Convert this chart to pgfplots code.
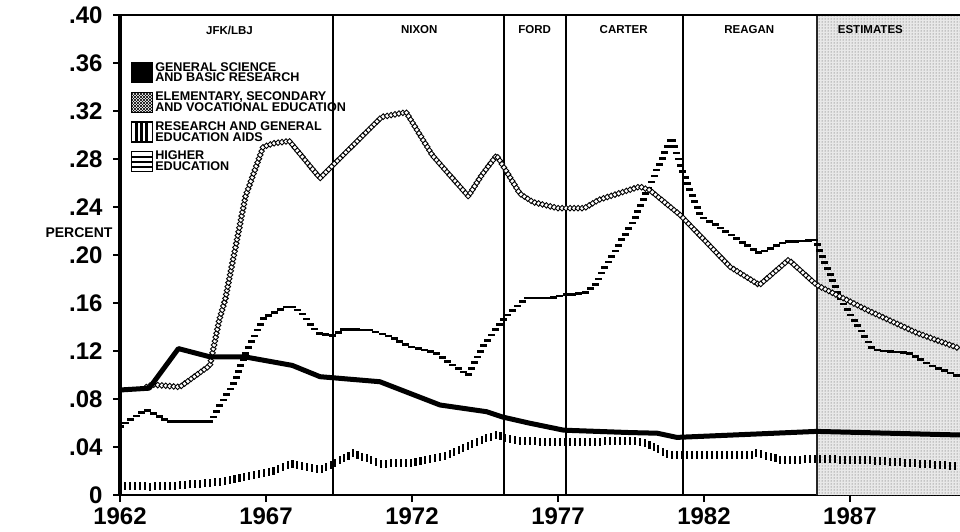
\documentclass[border=0pt]{standalone}
\usepackage{fontspec}
\setmainfont{Liberation Sans}
\usepackage{pgfplots}
\pgfplotsset{compat=1.18}
\usetikzlibrary{decorations.markings,patterns,shapes.geometric}

\tikzset{
  vbars/.style={decoration={markings,
     mark=between positions 0 and 1 step 5pt with {\node[fill=black,inner sep=0pt,minimum width=2.2pt,minimum height=8pt]{};}},
     postaction={decorate}},
  hbars/.style={decoration={markings,
     mark=between positions 0 and 1 step 6.5pt with {\node[fill=black,inner sep=0pt,minimum width=7pt,minimum height=2.6pt]{};}},
     postaction={decorate}},
  dchain/.style={decoration={markings,
     mark=between positions 0 and 1 step 4pt with {\node[diamond,draw=black,line width=0.9pt,fill=white,inner sep=0pt,minimum size=6pt]{};}},
     postaction={decorate}},
}

\begin{document}
\begin{tikzpicture}
\path[use as bounding box] (0,0) rectangle (960pt,532pt);
\begin{axis}[
  at={(120pt,37pt)}, anchor=south west,
  scale only axis, width=840pt, height=480pt,
  xmin=1962, xmax=1990.77, ymin=0, ymax=0.40,
  axis x line*=bottom, axis y line*=left,
  x axis line style={line width=2.5pt,-},
  y axis line style={line width=3.5pt,-},
  xtick={1962,1967,1972,1977,1982,1987},
  xticklabels={1962,1967,1972,1977,1982,1987},
  ytick={0,0.04,0.08,0.12,0.16,0.2,0.24,0.28,0.32,0.36,0.4},
  yticklabels={0,.04,.08,.12,.16,.20,.24,.28,.32,.36,.40},
  tick align=outside, major tick length=7pt,
  tick style={line width=2pt,black},
  /pgf/number format/assume math mode=true,
  ticklabel style={font=\fontsize{24}{24}\selectfont\bfseries},
  yticklabel style={xshift=-7pt},
  xticklabel style={yshift=-2pt},
  clip mode=individual,
  legend style={at={(rel axis cs:0.012,0.906)}, anchor=north west, draw=none, fill=none,
     inner sep=0pt, font=\fontsize{12.6}{10.8}\selectfont\bfseries,
     cells={anchor=west, align=left}, row sep=4.5pt},
]
% estimates region
\fill[black!9] (axis cs:1985.87,0) rectangle (axis cs:1990.77,0.40);
\fill[pattern=dots, pattern color=black!70] (axis cs:1985.87,0) rectangle (axis cs:1990.77,0.40);
\draw[line width=2.2pt, black!85] (axis cs:1985.87,0) -- (axis cs:1985.87,0.40);
% administration boundaries
\draw[line width=1.6pt] (axis cs:1969.29,0) -- (axis cs:1969.29,0.40);
\draw[line width=1.6pt] (axis cs:1975.15,0) -- (axis cs:1975.15,0.40);
\draw[line width=1.6pt] (axis cs:1977.27,0) -- (axis cs:1977.27,0.40);
\draw[line width=1.6pt] (axis cs:1981.28,0) -- (axis cs:1981.28,0.40);
\draw[line width=2pt] (rel axis cs:0,1) -- (rel axis cs:1,1);

\node[font=\fontsize{11.5}{12}\selectfont\bfseries] at (axis cs:1965.75,0.3875) {JFK/LBJ};
\node[font=\fontsize{11.5}{12}\selectfont\bfseries] at (axis cs:1972.25,0.3875) {NIXON};
\node[font=\fontsize{11.5}{12}\selectfont\bfseries] at (axis cs:1976.2,0.3875) {FORD};
\node[font=\fontsize{11.5}{12}\selectfont\bfseries] at (axis cs:1979.25,0.3875) {CARTER};
\node[font=\fontsize{11.5}{12}\selectfont\bfseries] at (axis cs:1983.55,0.3875) {REAGAN};
\node[font=\fontsize{11.5}{12}\selectfont\bfseries] at (axis cs:1987.7,0.3875) {ESTIMATES};

% Research and general education aids
\addplot[draw=none, vbars, forget plot] coordinates {
(1962,0.008) (1963.1,0.007) (1964,0.008) (1965.4,0.011) (1966.5,0.016) (1967.1,0.019)
(1967.9,0.026) (1968.85,0.021) (1969.3,0.026) (1970.0,0.035) (1970.9,0.026) (1972.0,0.027)
(1973.2,0.033) (1974.1,0.043) (1974.85,0.050) (1975.6,0.045) (1977.2,0.044) (1979.6,0.045)
(1980.15,0.042) (1980.8,0.033) (1983.6,0.033) (1983.8,0.035) (1984.7,0.029) (1985.86,0.030)
(1987.6,0.029) (1990.77,0.024)};

% Higher education
\addplot[draw=none, hbars, forget plot] coordinates {
(1962,0.057) (1962.9,0.071) (1963.7,0.061) (1965.1,0.061) (1965.4,0.0736) (1965.9,0.093)
(1966.3,0.118) (1966.9,0.147) (1967.8,0.158) (1968.2,0.153) (1968.6,0.140) (1968.85,0.134)
(1969.3,0.133) (1969.65,0.138) (1970.56,0.1375) (1971.25,0.132) (1971.9,0.124) (1972.85,0.118)
(1973.4,0.108) (1973.93,0.100) (1974.45,0.124) (1975.1,0.146) (1975.9,0.164) (1976.7,0.164)
(1977.3,0.167) (1977.9,0.168) (1978.3,0.176) (1978.55,0.1875) (1979.6,0.229) (1980.9,0.298)
(1981.2,0.274) (1981.9,0.232) (1982.4,0.225) (1983.9,0.2015) (1984.8,0.211) (1985.86,0.2125)
(1985.9,0.207) (1986.7,0.1625) (1987.8,0.121) (1989.05,0.118) (1989.85,0.107) (1990.77,0.0986)};

% Elementary, secondary and vocational education
\addplot[draw=none, dchain, forget plot] coordinates {
(1962.9,0.090) (1963.1,0.092) (1964.05,0.090) (1965.08,0.108) (1965.4,0.146) (1965.6,0.1625)
(1966.3,0.249) (1966.9,0.290) (1967.25,0.293) (1967.8,0.295) (1968.85,0.264) (1969.3,0.275)
(1970.96,0.315) (1971.8,0.319) (1972.7,0.283) (1973.93,0.249) (1974.4,0.267) (1974.9,0.283)
(1975.7,0.251) (1976.15,0.244) (1977.0,0.239) (1977.9,0.239) (1978.4,0.246) (1979.8,0.257)
(1980.15,0.254) (1981.2,0.233) (1982.9,0.190) (1983.9,0.175) (1984.9,0.196) (1985.86,0.175)
(1987.6,0.154) (1989.3,0.135) (1990.77,0.122)};

% General science and basic research
\addplot[black, line width=5pt, line join=round, forget plot] coordinates {
(1962,0.0875) (1963,0.089) (1964,0.122) (1965.1,0.115) (1966.3,0.115) (1967.9,0.108)
(1968.85,0.0986) (1970.9,0.0944) (1972.96,0.075) (1974.56,0.0694) (1975.1,0.065) (1976.0,0.060)
(1977.2,0.054) (1979.5,0.052) (1980.4,0.0515) (1981.07,0.048) (1983,0.050) (1985.86,0.053)
(1990.77,0.050)};

\addlegendimage{legend image code/.code={\draw[line width=1pt,fill=black] (0pt,-10pt) rectangle (21pt,10pt);}}
\addlegendentry{GENERAL SCIENCE\\AND BASIC RESEARCH}
\addlegendimage{legend image code/.code={
  \fill[pattern=north east lines] (0pt,-10pt) rectangle (21pt,10pt);
  \fill[pattern=north west lines] (0pt,-10pt) rectangle (21pt,10pt);
  \draw[line width=1.2pt] (0pt,-10pt) rectangle (21pt,10pt);}}
\addlegendentry{ELEMENTARY, SECONDARY\\AND VOCATIONAL EDUCATION}
\addlegendimage{legend image code/.code={
  \draw[line width=1.2pt] (0pt,-10pt) rectangle (21pt,10pt);
  \draw[line width=2.6pt] (5.5pt,-10pt) -- (5.5pt,10pt);
  \draw[line width=2.6pt] (10.5pt,-10pt) -- (10.5pt,10pt);
  \draw[line width=2.6pt] (15.5pt,-10pt) -- (15.5pt,10pt);}}
\addlegendentry{RESEARCH AND GENERAL\\EDUCATION AIDS}
\addlegendimage{legend image code/.code={
  \draw[line width=1.2pt] (0pt,-10pt) rectangle (21pt,10pt);
  \draw[line width=2pt] (0pt,-5pt) -- (21pt,-5pt);
  \draw[line width=2pt] (0pt,0pt) -- (21pt,0pt);
  \draw[line width=2pt] (0pt,5pt) -- (21pt,5pt);}}
\addlegendentry{HIGHER\\EDUCATION}
\end{axis}
\node[font=\fontsize{14}{14}\selectfont\bfseries] at (79pt,299pt) {PERCENT};
\end{tikzpicture}
\end{document}
